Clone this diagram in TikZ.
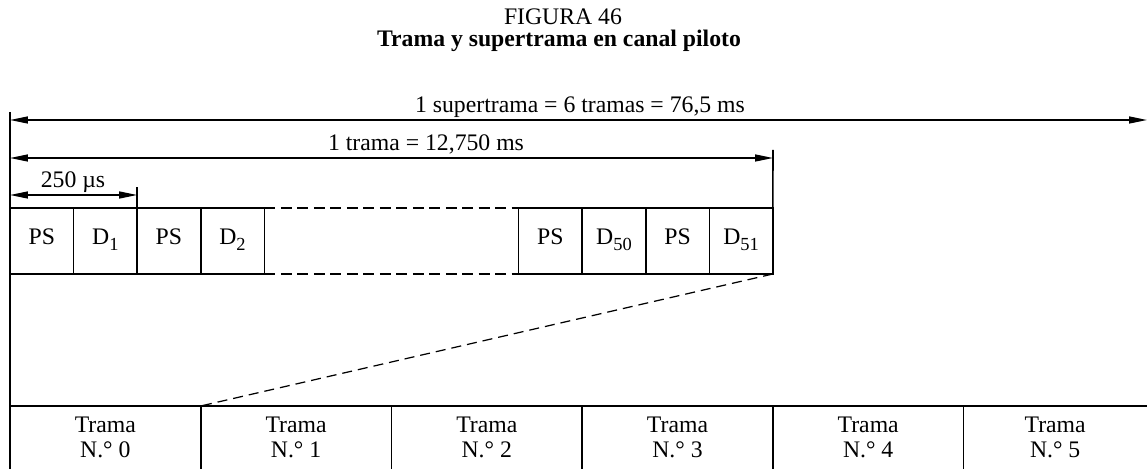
\documentclass[tikz,border=0pt]{standalone}
\usepackage{fontspec}
\setmainfont{Liberation Serif}
\usetikzlibrary{positioning, arrows.meta}

\newcommand{\lowidx}[1]{\raisebox{-0.55ex}{\fontsize{10.5}{11}\selectfont #1}}

\begin{document}
\begin{tikzpicture}[x=0.02cm, y=-0.02cm, line width=0.9pt,
    font=\fontsize{13.5}{14.2}\selectfont,
    slot/.style={draw, minimum width=1.2717cm, minimum height=1.32cm, inner sep=0pt, outer sep=0pt,
      text height=8pt, text depth=3.5pt},
    frame/.style={minimum width=3.815cm, minimum height=1.26cm, inner sep=0pt, outer sep=0pt, align=center},
    span/.style={line width=0.8pt, {Triangle[length=3.6mm,width=1.4mm]}-{Triangle[length=3.6mm,width=1.4mm]}},
    gap/.style={dash pattern=on 2.2mm off 1.1mm}]
  \useasboundingbox (0,0) rectangle (1147,469);

  % caption
  \node[anchor=base] (fig) at (563,25) {FIGURA 46};
  \node[anchor=base, font=\fontsize{13.5}{14.2}\selectfont\bfseries] (title) at (559,47) {Trama y supertrama en canal piloto};

  % slots of one frame
  \node[slot, anchor=north west] (ps1) at (10,208) {PS};
  \node[slot, right=0pt of ps1] (d1) {D\lowidx{1}};
  \node[slot, right=0pt of d1] (ps2) {PS};
  \node[slot, right=0pt of ps2] (d2) {D\lowidx{2}};
  \node[slot, right=5.0868cm of d2] (ps50) {PS};
  \node[slot, right=0pt of ps50] (d50) {D\lowidx{50}};
  \node[slot, right=0pt of d50] (ps51) {PS};
  \node[slot, right=0pt of ps51] (d51) {D\lowidx{51}};
  \draw[gap] (d2.north east) -- (ps50.north west);
  \draw[gap] (d2.south east) -- (ps50.south west);

  % frames of the superframe
  \node[frame, anchor=north west] (f0) at (10,406) {Trama\\N.° 0};
  \foreach \i [count=\j from 0] in {1,...,4}
    \node[frame, right=0pt of f\j] (f\i) {Trama\\N.° \i};
  \node[frame, right=0pt of f4, minimum width=3.665cm] (f5) {Trama\\N.° 5};
  \draw[line width=1pt] (f0.north west) -- (f5.north east);
  \foreach \i in {0,...,4}
    \draw[line width=1pt] (f\i.north east) -- (f\i.south east);

  % zoom line
  \draw[line width=0.7pt, dash pattern=on 2mm off 1.2mm] (d51.south east) -- (f1.north west);

  % limits and spans
  \coordinate (lefttop) at (10,112);
  \draw[line width=1pt] (lefttop) -- (f0.south west);
  \coordinate (trtop) at (773,150);
  \draw (trtop) -- (d51.north east);
  \coordinate (qtop) at ([yshift=0.42cm]d1.north east);
  \draw (qtop) -- (d1.north east);

  \coordinate (supL) at (10,120);
  \coordinate (supR) at (1147,120);
  \draw[span] (supL) -- (supR);
  \node[anchor=base] (suplabel) at (580,113) {1 supertrama = 6 tramas = 76,5 ms};

  \coordinate (trL) at (10,158);
  \coordinate (trR) at (trtop |- trL);
  \draw[span] (trL) -- (trR);
  \node[anchor=base] (trlabel) at (426,151) {1 trama = 12,750 ms};

  \coordinate (qL) at (10,195);
  \coordinate (qR) at (qtop |- qL);
  \draw[span] (qL) -- (qR);
  \node[anchor=base] (qlabel) at (73,188) {250 µs};
\end{tikzpicture}
\end{document}
